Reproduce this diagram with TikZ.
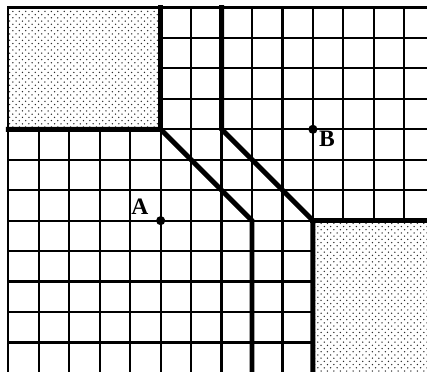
\documentclass[tikz,border=0pt]{standalone}
\usepackage{fontspec}
\setmainfont{Liberation Serif}
\usetikzlibrary{patterns}
\definecolor{mzdots}{RGB}{40,40,40}
\pgfdeclarepatternformonly{mzstipple}{\pgfqpoint{-1pt}{-1pt}}{\pgfqpoint{5pt}{5pt}}{\pgfqpoint{6pt}{6pt}}%
{
  \pgfpathcircle{\pgfqpoint{0pt}{0pt}}{.7pt}
  \pgfpathcircle{\pgfqpoint{3pt}{3pt}}{.7pt}
  \pgfusepath{fill}
}
\tikzset{
  gridline/.style={line width=2pt},
  wall/.style={line width=4.6pt},
  shaded/.style={pattern=mzstipple,pattern color=mzdots},
  ptlabel/.style={font=\fontsize{22}{24}\selectfont\bfseries,inner sep=0pt}
}

\begin{document}
\begin{tikzpicture}[x=1cm,y=1cm,line cap=rect]

\useasboundingbox (-0.276,0.246) rectangle (13.747,-11.938);
\clip (-0.276,0.246) rectangle (13.747,-11.938);

\foreach \x in {0,...,13}
    \draw[gridline] (\x,0) -- (\x,-12.2);
\foreach \y in {0,...,11}
    \draw[gridline] (0,-\y) -- (14,-\y);

\fill[white] (0,0) rectangle (5,-4);
\fill[shaded] (0,0) rectangle (5,-4);
\fill[white] (10,-7) rectangle (14,-12.2);
\fill[shaded] (10,-7) rectangle (14,-12.2);

\draw[gridline] (0,-4) -- (0,0) -- (5,0);

\draw[wall] (0,-4) -- (5,-4) -- (8,-7) -- (8,-12.2);
\draw[wall] (5,0) -- (5,-4);
\draw[wall] (7,0) -- (7,-4) -- (10,-7) -- (10,-12.2);
\draw[wall] (10,-7) -- (14,-7);

\coordinate (A) at (5,-7);
\coordinate (B) at (10,-4);
\fill (A) circle (0.15);
\fill (B) circle (0.15);

\node[ptlabel,anchor=base east] (labA) at ([shift={(-0.4,0.2)}]A) {A};
\node[ptlabel,anchor=base west] (labB) at ([shift={(0.2,-0.58)}]B) {B};

\end{tikzpicture}
\end{document}
